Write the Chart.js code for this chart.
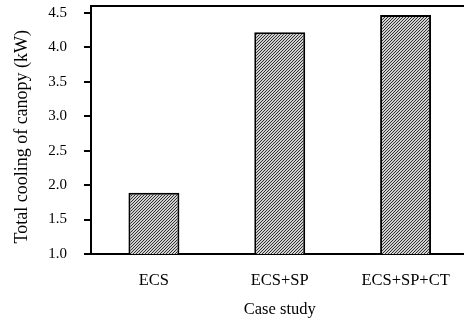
<!DOCTYPE html>
<html><head><meta charset="utf-8">
<script src="https://cdn.jsdelivr.net/npm/chart.js@4/dist/chart.umd.min.js"></script>
<style>html,body{margin:0;padding:0;overflow:hidden;background:#fff;width:464px;height:320px}
#wrap{width:470px;height:320px;position:relative}</style>
</head><body><div id="wrap"><canvas id="c"></canvas></div>
<script>
const categories = ["ECS", "ECS+SP", "ECS+SP+CT"];
const coolingKW = [1.89, 4.22, 4.47];
const yTicks = [1.0, 1.5, 2.0, 2.5, 3.0, 3.5, 4.0, 4.5];

function hatch(){
  const p = document.createElement('canvas');
  p.width = 3; p.height = 3;
  const g = p.getContext('2d');
  g.fillStyle = '#d0d0d0'; g.fillRect(0,0,3,3);
  g.fillStyle = '#303030';
  g.fillRect(2,0,1,1); g.fillRect(1,1,1,1); g.fillRect(0,2,1,1);
  return document.getElementById('c').getContext('2d').createPattern(p,'repeat');
}

const topFrame = {
  id: 'topFrame',
  afterDraw(chart) {
    const { ctx, chartArea: a } = chart;
    ctx.save();
    ctx.strokeStyle = '#000'; ctx.lineWidth = 2;
    ctx.beginPath(); ctx.moveTo(a.left - 1, a.top); ctx.lineTo(a.right + 5, a.top); ctx.stroke();
    ctx.restore();
  }
};

const serif = "'Liberation Serif','Times New Roman',serif";
new Chart(document.getElementById('c'), {
  type: 'bar',
  data: { labels: categories, datasets: [{ data: coolingKW, backgroundColor: hatch(), borderColor: '#000', borderWidth: 2, borderSkipped: false, barPercentage: 0.405, categoryPercentage: 1 }] },
  plugins: [topFrame],
  options: {
    responsive: true, maintainAspectRatio: false, animation: false,
    layout: { padding: { top: 6, right: 1.5, left: 0, bottom: 0 } },
    plugins: { legend: { display: false }, tooltip: { enabled: false } },
    scales: {
      x: {
        grid: { display: false },
        border: { display: true, color: '#000', width: 2 },
        ticks: { color: '#000', font: { family: serif, size: 16.5 }, padding: 9 },
        title: { display: true, text: 'Case study', color: '#000', font: { family: serif, size: 16.5 }, padding: { top: 9, bottom: 0 } },
        afterFit: s => { s.height = 66; s.paddingLeft = 0; s.paddingRight = 0; }
      },
      y: {
        min: 1.0, max: 4.6,
        afterBuildTicks: s => { s.ticks = yTicks.map(v => ({ value: v })); },
        grid: { drawOnChartArea: false, drawTicks: true, tickLength: 7, color: '#000', lineWidth: 2 },
        border: { display: true, color: '#000', width: 2 },
        ticks: { color: '#000', font: { family: serif, size: 15 }, padding: 17, callback: v => Number(v).toFixed(1) },
        title: { display: true, text: 'Total cooling of canopy (kW)   ', color: '#000', font: { family: serif, size: 18 }, padding: { top: 11, bottom: 0 } },
        afterFit: s => { s.width = 91; s.paddingTop = 0; s.paddingBottom = 0; }
      }
    }
  }
});
</script></body></html>
